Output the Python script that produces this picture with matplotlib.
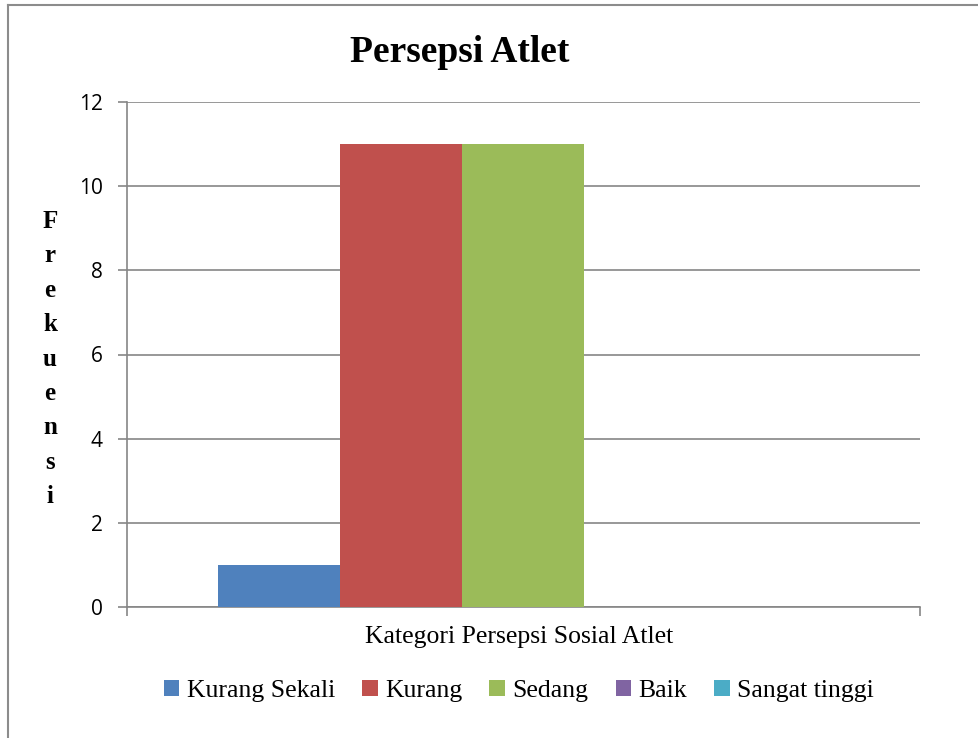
import matplotlib.pyplot as plt
from matplotlib.lines import Line2D
from matplotlib.patches import Patch

series = ['Kurang Sekali', 'Kurang', 'Sedang', 'Baik', 'Sangat tinggi']
values = [1, 11, 11, 0, 0]
colors = ['#4F81BD', '#C0504D', '#9BBB59', '#8064A2', '#4BACC6']
yticks = [0, 2, 4, 6, 8, 10, 12]
ylabel = 'Frekuensi'

serif = 'Liberation Serif'
sans = 'Open Sans'
grid_c = '#868686'

W, H = 979, 738
fig = plt.figure(figsize=(W / 100, H / 100), dpi=100)
ax = fig.add_axes([127 / W, 1 - 607 / H, (920 - 127) / W, (607 - 102) / H])

n = len(series)
w = 1 / (n + 1.5)
for i, (name, v, c) in enumerate(zip(series, values, colors)):
    ax.bar((i - (n - 1) / 2) * w, v, width=w, color=c, label=name, zorder=3)

ax.set_xlim(-0.5, 0.5)
ax.set_ylim(0, 12)
ax.set_yticks(yticks)
ax.set_yticklabels([str(t) for t in yticks], fontfamily=sans, fontsize=15)
ax.yaxis.grid(True, color=grid_c, linewidth=1.2, zorder=0)
ax.tick_params(axis='y', length=6.5, width=1.2, color=grid_c, pad=11)
ax.set_xticks([-0.5, 0.5])
ax.set_xticklabels(['', ''])
ax.tick_params(axis='x', length=6.5, width=1.2, color=grid_c)
for s in ['top', 'right']:
    ax.spines[s].set_visible(False)
for s in ['left', 'bottom']:
    ax.spines[s].set_color(grid_c)
    ax.spines[s].set_linewidth(1.2)

fig.text(460 / W, 1 - 52 / H, 'Persepsi Atlet', ha='center', va='center',
         fontfamily=serif, fontsize=27, fontweight='bold')
fig.text(519 / W, 1 - 637 / H, 'Kategori Persepsi Sosial Atlet', ha='center', va='center',
         fontfamily=serif, fontsize=18.5)
# vertical stacked y label, one letter per line
for k, ch in enumerate(ylabel):
    fig.text(50 / W, 1 - (228 + k * 34.4) / H, ch, ha='center', va='baseline',
             fontfamily=serif, fontsize=18, fontweight='bold')

handles = [Patch(facecolor=c, edgecolor='none') for c in colors]
fig.legend(handles, series, loc='center', bbox_to_anchor=(519 / W, 1 - 691 / H), ncol=5,
           frameon=False, prop={'family': serif, 'size': 18.5},
           handlelength=0.6, handleheight=0.6, handletextpad=0.3, columnspacing=1.05,
           borderaxespad=0, borderpad=0)

# outer frame (left and top only, as cropped)
fig.add_artist(Line2D([8.5 / W, 8.5 / W], [0, 1 - 4.5 / H], color='#8c8c8c', linewidth=1.5))
fig.add_artist(Line2D([8.5 / W, 1], [1 - 4.5 / H, 1 - 4.5 / H], color='#8c8c8c', linewidth=1.5))

fig.savefig('out.png', dpi=100)
